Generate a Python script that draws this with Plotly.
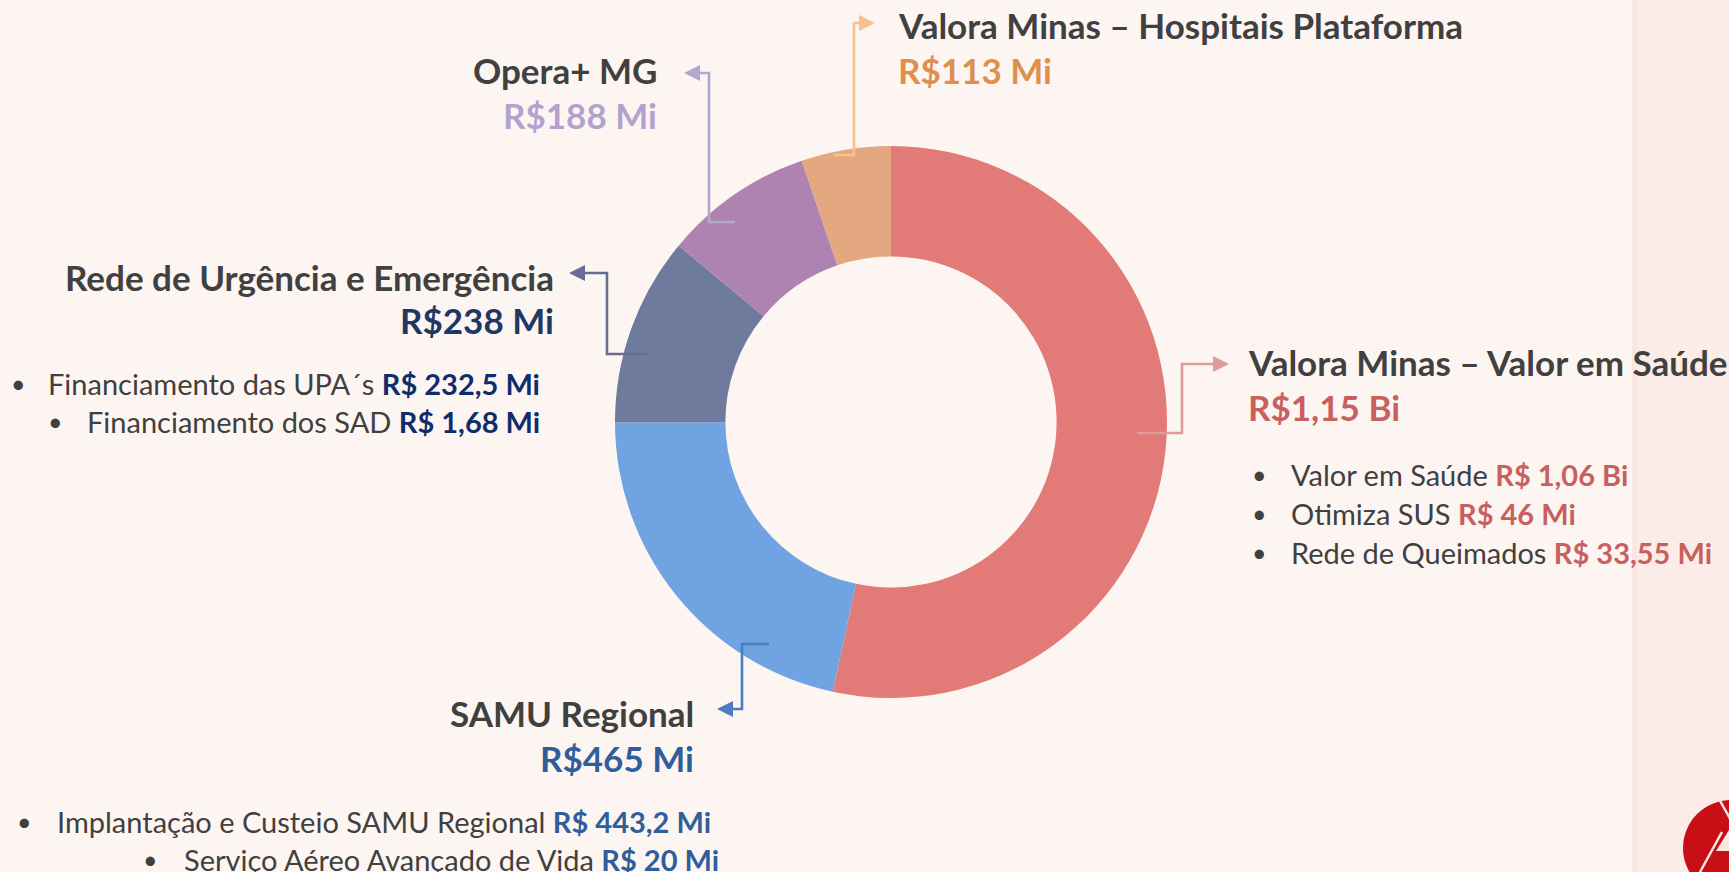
import plotly.graph_objects as go

W, H = 1729, 872

# ---------------- data ----------------
labels = ["Valora Minas – Valor em Saúde", "SAMU Regional",
          "Rede de Urgência e Emergência", "Opera+ MG",
          "Valora Minas – Hospitais Plataforma"]
values = [1150, 465, 238, 188, 113]          # R$ milhões
value_text = ["R$1,15 Bi", "R$465 Mi", "R$238 Mi", "R$188 Mi", "R$113 Mi"]
slice_colors = ["#E27A77", "#6FA3E2", "#6F7B9D", "#AF83B1", "#E4A881"]
value_colors = ["#C8605D", "#2F5E9B", "#1F3763", "#B3A2CE", "#DF8F4D"]
line_colors = ["#E09A9B", "#4A7EC1", "#676E95", "#B4A7CD", "#F8C08C"]

bullets_valor = ["Valor em Saúde", "Otimiza SUS", "Rede de Queimados"]
bullets_valor_v = ["R$ 1,06 Bi", "R$ 46 Mi", "R$ 33,55 Mi"]
bullets_rue = ["Financiamento das UPA´s", "Financiamento dos SAD"]
bullets_rue_v = ["R$ 232,5 Mi", "R$ 1,68 Mi"]
bullets_samu = ["Implantação e Custeio SAMU Regional", "Serviço Aéreo Avançado de Vida"]
bullets_samu_v = ["R$ 443,2 Mi", "R$ 20 Mi"]

# ---------------- layout helpers ----------------
BG = "#FDF5F2"
STRIP = "#FBECE8"
DARK = "#404040"
FONT = "Lato, 'Open Sans', sans-serif"
TITLE_SIZE = 35
BUL_SIZE = 29


def px(x):
    return x / W


def py(y):
    return 1 - y / H


CX, CY, R = 891, 422, 276

fig = go.Figure()
fig.add_trace(go.Pie(
    labels=labels, values=values, sort=False, direction="clockwise",
    rotation=0, hole=0.6, textinfo="none", hoverinfo="label+value",
    marker=dict(colors=slice_colors, line=dict(width=0)),
    domain=dict(x=[px(CX - R), px(CX + R)], y=[py(CY + R), py(CY - R)]),
    showlegend=False,
))

shapes = []
annotations = []

# background strip on the right
shapes.append(dict(type="rect", xref="paper", yref="paper", x0=px(1633), x1=1,
                   y0=0, y1=1, fillcolor=STRIP, line=dict(width=0), layer="below"))
shapes.append(dict(type="rect", xref="paper", yref="paper", x0=px(1632), x1=px(1637),
                   y0=0, y1=1, fillcolor="#F9E6E2", line=dict(width=0), layer="below"))


def elbow(pts, color):
    path = "M " + " L ".join(f"{px(x)},{py(y)}" for x, y in pts[:-1])
    (x1, y1), (x2, y2) = pts[-2], pts[-1]
    L, HW = 16, 8
    if y1 == y2:
        d = 1 if x2 > x1 else -1
        bx = x2 - d * L
        path += f" L {px(bx)},{py(y2)}"
        tri = f"M {px(x2)},{py(y2)} L {px(bx)},{py(y2 - HW)} L {px(bx)},{py(y2 + HW)} Z"
    else:
        d = 1 if y2 > y1 else -1
        by = y2 - d * L
        path += f" L {px(x2)},{py(by)}"
        tri = f"M {px(x2)},{py(y2)} L {px(x2 - HW)},{py(by)} L {px(x2 + HW)},{py(by)} Z"
    shapes.append(dict(type="path", xref="paper", yref="paper", path=path,
                       line=dict(color=color, width=2.6)))
    shapes.append(dict(type="path", xref="paper", yref="paper", path=tri,
                       fillcolor=color, line=dict(color=color, width=0)))


elbow([(1137, 433), (1182, 433), (1182, 364), (1229, 364)], line_colors[0])
elbow([(769, 644), (742, 644), (742, 709), (717, 709)], line_colors[1])
elbow([(647, 354), (607, 354), (607, 273), (569, 273)], line_colors[2])
elbow([(735, 222), (709, 222), (709, 73), (684, 73)], line_colors[3])
elbow([(834, 155), (854, 155), (854, 23), (875, 23)], line_colors[4])


def text(x, y, s, anchor, size, color=DARK, bold=False):
    if bold:
        s = f"<b>{s}</b>"
    annotations.append(dict(x=px(x), y=py(y), xref="paper", yref="paper",
                            text=s, showarrow=False, xanchor=anchor, yanchor="middle",
                            font=dict(family=FONT, size=size, color=color),
                            borderpad=0))


def title_block(x, y1, y2, i, anchor):
    text(x, y1, labels[i], anchor, TITLE_SIZE, DARK, True)
    text(x, y2, value_text[i], anchor, TITLE_SIZE, value_colors[i], True)


title_block(1247, 362, 407, 0, "left")
title_block(695, 713, 758, 1, "right")
title_block(555, 277, 320, 2, "right")
title_block(658, 70, 115, 3, "right")
title_block(897, 25, 70, 4, "left")


def bullet(bx, tx, y, label, val, color):
    text(bx, y, "•", "center", BUL_SIZE - 4, DARK)
    text(tx, y, f"{label} <b><span style='color:{color}'>{val}</span></b>",
         "left", BUL_SIZE, DARK)


for lab, v, y in zip(bullets_valor, bullets_valor_v, [474, 513, 552]):
    bullet(1259, 1290, y, lab, v, "#C8605D")
bullet(18, 47, 383, bullets_rue[0], bullets_rue_v[0], "#0F2C6B")
bullet(55, 86, 421, bullets_rue[1], bullets_rue_v[1], "#0F2C6B")
bullet(24, 56, 821, bullets_samu[0], bullets_samu_v[0], "#2F5E9B")
bullet(150, 183, 859, bullets_samu[1], bullets_samu_v[1], "#2F5E9B")

# logo (partially visible red circle with white triangle)
LX, LY, LR = 1731, 848, 48
shapes.append(dict(type="circle", xref="paper", yref="paper",
                   x0=px(LX - LR), x1=px(LX + LR), y0=py(LY + LR), y1=py(LY - LR),
                   fillcolor="#C80F16", line=dict(width=0)))
shapes.append(dict(type="path", xref="paper", yref="paper",
                   path=f"M {px(1719)},{py(799)} L {px(1745)},{py(845)} "
                        f"M {px(1700)},{py(872)} L {px(1722)},{py(832)}",
                   line=dict(color="#F6E7E2", width=2.5)))
shapes.append(dict(type="path", xref="paper", yref="paper",
                   path=f"M {px(1716)},{py(851)} L {px(1729)},{py(851)} L {px(1729)},{py(830)} Z",
                   fillcolor="#F6E7E2", line=dict(width=0)))

fig.update_layout(
    width=W, height=H, margin=dict(l=0, r=0, t=0, b=0),
    paper_bgcolor=BG, plot_bgcolor=BG,
    shapes=shapes, annotations=annotations,
    xaxis=dict(visible=False), yaxis=dict(visible=False),
)

fig.write_html("out.html", config={"displayModeBar": False},
               post_script="document.body.style.margin='0';document.body.style.overflow='hidden';")
